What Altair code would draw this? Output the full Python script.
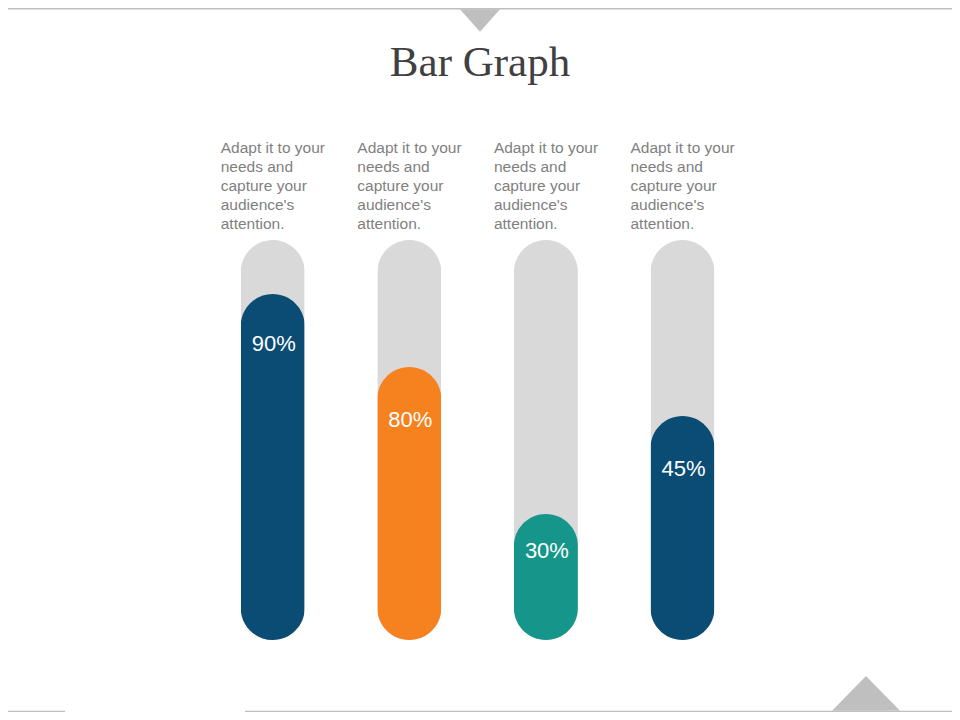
import altair as alt
import pandas as pd

# ---- data ----
categories = ["A", "B", "C", "D"]
fill_levels = [86.5, 68.25, 31.5, 56.0]      # drawn height of each coloured bar (% of track)
label_levels = [74.0, 55.0, 22.3, 42.8]      # where each percentage label sits (% of track)
track_levels = [100, 100, 100, 100]
value_labels = ["90%", "80%", "30%", "45%"]
caption = "Adapt it to your\nneeds and\ncapture your\naudience's\nattention."
captions = [caption] * 4
bar_colors = ["#0B4C74", "#F5821F", "#16968A", "#0B4C74"]
title_text = "Bar Graph"

df = pd.DataFrame({
    "cat": categories,
    "fill": fill_levels,
    "lab": label_levels,
    "track": track_levels,
    "label": value_labels,
    "caption": captions,
})

W, H = 944, 704
GRAY = "#BFBFBF"

xs = alt.Scale(domain=categories, range=[196.4, 742.8], paddingInner=0, paddingOuter=0)
ys = alt.Scale(domain=[0, 100], range=[632, 232])
X = alt.X("cat:N", scale=xs, axis=None)

base = alt.Chart(df)

track = base.mark_bar(size=64, cornerRadius=32, color="#D9D9D9").encode(
    x=X, y=alt.Y("track:Q", scale=ys, axis=None)
)
fill = base.mark_bar(size=64, cornerRadius=32).encode(
    x=X,
    y=alt.Y("fill:Q", scale=ys, axis=None),
    color=alt.Color("cat:N", scale=alt.Scale(domain=categories, range=bar_colors), legend=None),
)
pct = base.mark_text(
    font="Liberation Sans", fontSize=22, color="white", baseline="middle", dx=1
).encode(x=X, y=alt.Y("lab:Q", scale=ys, axis=None), text="label:N")

cap = base.mark_text(
    font="Liberation Sans", fontSize=15.5, color="#7F7F7F", align="left",
    baseline="alphabetic", lineBreak="\n", lineHeight=19, dx=-52, dy=-87
).encode(x=X, y=alt.Y("track:Q", scale=ys, axis=None), text="caption:N")

deco = alt.Chart(pd.DataFrame({"d": [0]}))

title = deco.mark_text(
    text=title_text, font="Liberation Serif", fontSize=43, color="#404040",
    align="center", baseline="alphabetic"
).encode(x=alt.value(472), y=alt.value(68))

top_band = deco.mark_rect(color=GRAY).encode(
    x=alt.value(0), x2=alt.value(W), y=alt.value(0), y2=alt.value(1.5)
)
top_tri = deco.mark_point(
    shape="M-1,-0.56L1,-0.56L0,0.56Z", filled=True, opacity=1, size=1600, color=GRAY
).encode(x=alt.value(472), y=alt.value(12.5))

bot_left = deco.mark_rect(color=GRAY).encode(
    x=alt.value(0), x2=alt.value(57), y=alt.value(702.7), y2=alt.value(H)
)
bot_right = deco.mark_rect(color=GRAY).encode(
    x=alt.value(237), x2=alt.value(W), y=alt.value(702.7), y2=alt.value(H)
)
bot_tri = deco.mark_point(
    shape="M0,-0.51L1,0.51L-1,0.51Z", filled=True, opacity=1, size=4624, color=GRAY
).encode(x=alt.value(858), y=alt.value(685.4))

chart = alt.layer(
    top_band, top_tri, bot_left, bot_right, bot_tri, title, cap, track, fill, pct
).properties(
    width=W, height=H, padding=0
).configure_view(strokeWidth=0)

chart.save("out.html", embed_options={"renderer": "svg", "actions": False})
